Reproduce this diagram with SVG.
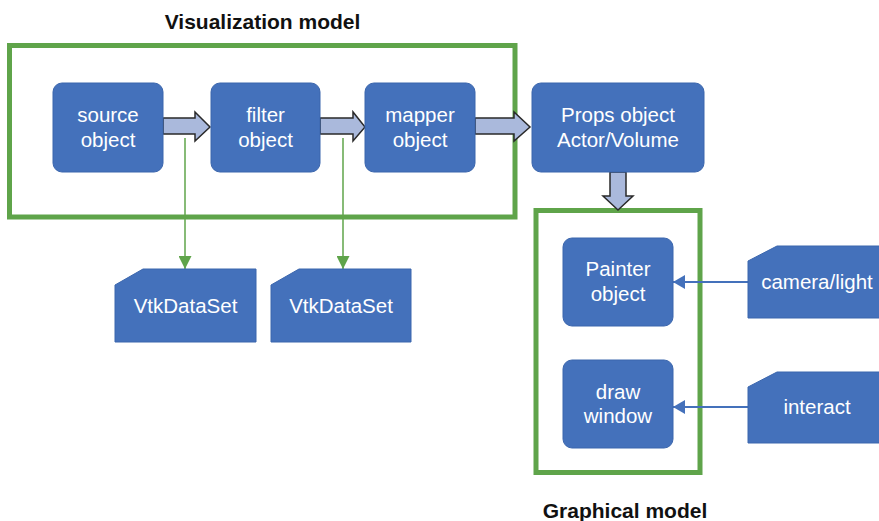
<svg xmlns="http://www.w3.org/2000/svg" width="879" height="521" viewBox="0 0 879 521">
<defs>
<style>
.frame{fill:none;stroke:#5fa44a;stroke-width:5}
.node{fill:#4471bb;stroke:#3b66ad;stroke-width:1}
.lbl{font-family:"Liberation Sans",Arial,sans-serif;font-size:20.5px;fill:#ffffff;text-anchor:middle}
.title{font-family:"Liberation Sans",Arial,sans-serif;font-size:21px;font-weight:bold;fill:#111111;text-anchor:middle}
.big{fill:#aab9dc;stroke:#2a2a2a;stroke-width:1.5;stroke-linejoin:miter}
.gl{stroke:#5fa44a;stroke-width:1.5;fill:none}
.bl{stroke:#4471bb;stroke-width:2;fill:none}
</style>
<marker id="ga" markerWidth="14" markerHeight="13" refX="13" refY="6.5" orient="auto" markerUnits="userSpaceOnUse">
<path d="M0,0 L13,6.5 L0,13 Z" fill="#5fa44a"/>
</marker>
<marker id="ba" markerWidth="13" markerHeight="14" refX="12" refY="7" orient="auto" markerUnits="userSpaceOnUse">
<path d="M0,0 L12,7 L0,14 Z" fill="#4471bb"/>
</marker>
</defs>
<rect width="879" height="521" fill="#ffffff"/>

<g id="vis-model">
<rect class="frame" x="9.5" y="45.5" width="505.5" height="171.5"/>
<text class="title" x="262.5" y="28.5">Visualization model</text>
</g>
<g id="graph-model">
<rect class="frame" x="536" y="210.5" width="164" height="262"/>
<text class="title" x="625" y="518">Graphical model</text>
</g>

<g id="connectors">
<path class="big" d="M163,118 H195 V112 L210,127 L195,141 V134 H163 Z"/>
<path class="big" d="M320,118 H353 V112 L365,127 L353,141 V134 H320 Z"/>
<path class="big" d="M475,118 H514 V112 L530,127 L514,141 V134 H475 Z"/>
<path class="big" d="M610,172 V196 H603 L618,210 L633,196 H626 V172 Z"/>
<line class="gl" x1="185" y1="138" x2="185" y2="269" marker-end="url(#ga)"/>
<line class="gl" x1="343" y1="138" x2="343" y2="269" marker-end="url(#ga)"/>
<line class="bl" x1="748" y1="282" x2="673" y2="282" marker-end="url(#ba)"/>
<line class="bl" x1="748" y1="407" x2="673" y2="407" marker-end="url(#ba)"/>
</g>

<g id="source">
<rect class="node" x="53" y="83" width="110" height="89" rx="9"/>
<text class="lbl" x="108" y="122">source</text>
<text class="lbl" x="108" y="147">object</text>
</g>
<g id="filter">
<rect class="node" x="211" y="83" width="109" height="89" rx="9"/>
<text class="lbl" x="265.5" y="122">filter</text>
<text class="lbl" x="265.5" y="147">object</text>
</g>
<g id="mapper">
<rect class="node" x="365" y="83" width="110" height="89" rx="9"/>
<text class="lbl" x="420" y="122">mapper</text>
<text class="lbl" x="420" y="147">object</text>
</g>
<g id="props">
<rect class="node" x="532" y="83" width="172" height="89" rx="9"/>
<text class="lbl" x="618" y="122">Props object</text>
<text class="lbl" x="618" y="147">Actor/Volume</text>
</g>
<g id="painter">
<rect class="node" x="563" y="238" width="110" height="88" rx="9"/>
<text class="lbl" x="618" y="276">Painter</text>
<text class="lbl" x="618" y="301">object</text>
</g>
<g id="window">
<rect class="node" x="563" y="360" width="110" height="88" rx="9"/>
<text class="lbl" x="618" y="399">draw</text>
<text class="lbl" x="618" y="423">window</text>
</g>
<g id="data1">
<path class="node" d="M115,285 L143,269 H256 V342 H115 Z"/>
<text class="lbl" x="185.5" y="313">VtkDataSet</text>
</g>
<g id="data2">
<path class="node" d="M271,285 L299,269 H411 V342 H271 Z"/>
<text class="lbl" x="341" y="313">VtkDataSet</text>
</g>
<g id="camera">
<path class="node" d="M748,261 L777,246 H890 V318 H748 Z"/>
<text class="lbl" x="817" y="289">camera/light</text>
</g>
<g id="interact">
<path class="node" d="M748,387 L777,372 H890 V443 H748 Z"/>
<text class="lbl" x="817" y="414">interact</text>
</g>
</svg>
